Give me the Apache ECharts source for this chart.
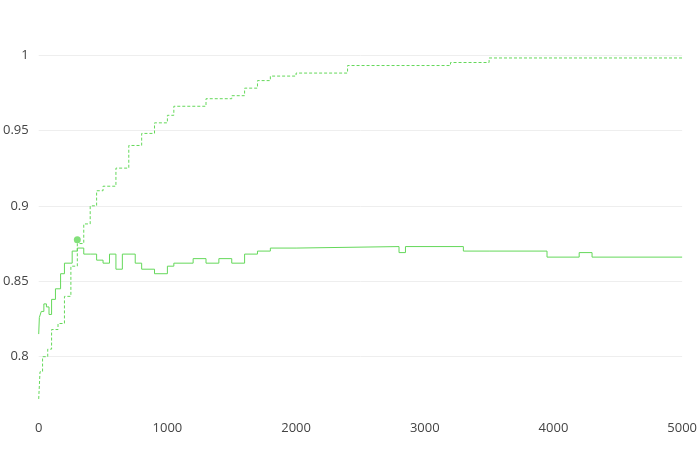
<!DOCTYPE html><html><head><meta charset="utf-8"><script src="https://cdn.jsdelivr.net/npm/echarts@6/dist/echarts.min.js"></script></head><body style="margin:0"><div id="c" style="width:700px;height:450px"></div><script>
const valX=[0,5,20,40,60,80,100,130,170,200,260,300,350,400,450,500,550,600,650,750,800,900,1000,1050,1200,1300,1400,1500,1600,1700,1800,2000,2800,2850,3300,3500,3950,4200,4300,5000];
const valY=[0.815,0.826,0.83,0.835,0.833,0.828,0.838,0.845,0.855,0.862,0.87,0.872,0.868,0.868,0.864,0.862,0.868,0.858,0.868,0.862,0.858,0.855,0.86,0.862,0.865,0.862,0.865,0.862,0.868,0.87,0.872,0.873,0.869,0.873,0.87,0.87,0.866,0.869,0.866,0.866];
const trX=[0,10,30,70,100,150,200,250,300,350,400,450,500,600,700,800,900,1000,1050,1300,1500,1600,1700,1800,2000,2400,3200,3500,4000,5000];
const trY=[0.772,0.79,0.80,0.805,0.818,0.822,0.84,0.86,0.875,0.888,0.9,0.91,0.913,0.925,0.94,0.948,0.955,0.96,0.966,0.971,0.973,0.978,0.983,0.986,0.988,0.993,0.995,0.998,0.998,0.999];
const best=[300,0.8775];
const yTicks=[0.8,0.85,0.9,0.95,1];
const z=(a,b)=>a.map((v,i)=>[v,b[i]]);
const ch=echarts.init(document.getElementById('c'));
ch.setOption({animation:false,
grid:{left:35,right:0,top:9.7,bottom:40.5},
xAxis:{type:'value',min:0,max:5000,interval:1000,axisLine:{show:false},axisTick:{show:false},splitLine:{show:false},axisLabel:{color:'#444',fontSize:13,margin:12,fontFamily:'Open Sans',formatter:v=>String(v)}},
yAxis:{type:'value',min:0.765,max:1.03,axisLine:{show:false},axisTick:{show:false,customValues:yTicks},
 axisLabel:{customValues:yTicks,color:'#444',fontSize:13,margin:10,fontFamily:'Open Sans'},
 splitLine:{lineStyle:{color:'#eee'}}},
series:[
{type:'line',step:'end',data:z(trX,trY),showSymbol:false,lineStyle:{color:'#64d85a',width:1,type:[3,2]}},
{type:'line',step:'end',data:z(valX,valY),showSymbol:false,lineStyle:{color:'#64d85a',width:1}},
{type:'scatter',data:[best],symbolSize:7,itemStyle:{color:'#64d85a'}}
]});
</script></body></html>
